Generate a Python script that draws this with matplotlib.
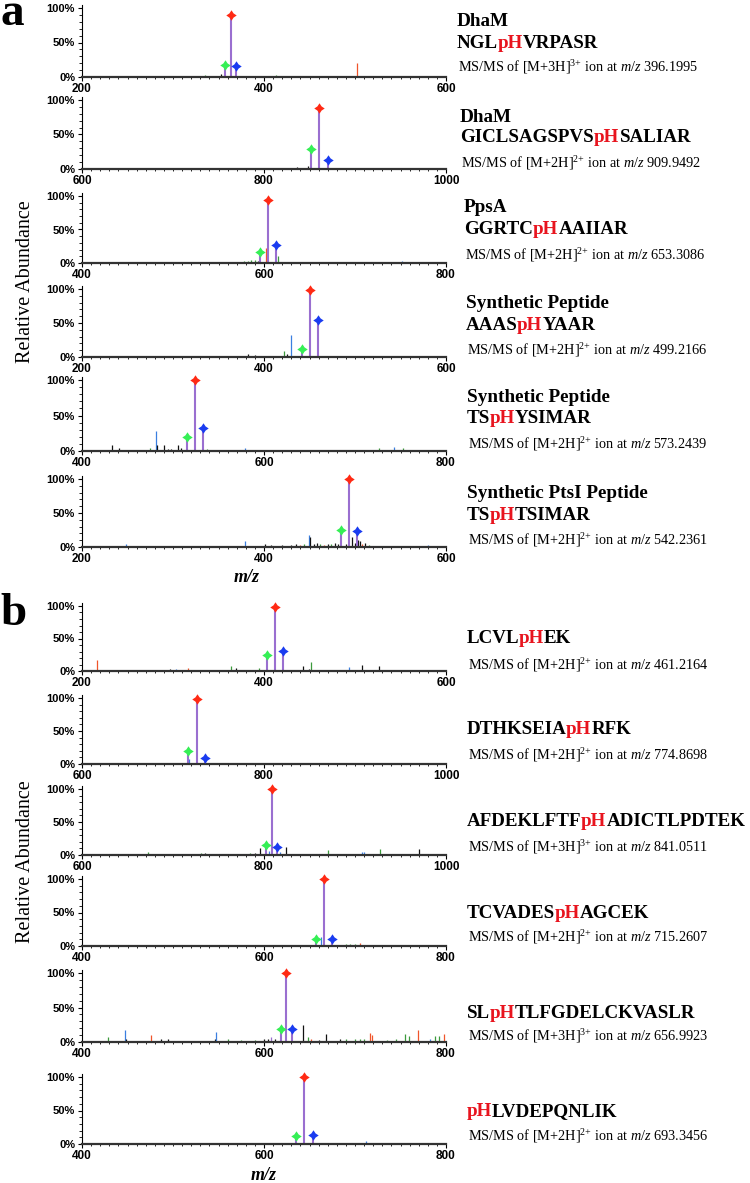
import matplotlib
matplotlib.use('Agg')
import numpy as np
import matplotlib.pyplot as plt
from matplotlib.figure import Figure
from matplotlib.backends.backend_agg import FigureCanvasAgg
from matplotlib.path import Path
from matplotlib.ticker import MultipleLocator, FixedLocator

plt.rcParams['font.family'] = ['Liberation Serif', 'DejaVu Serif']
plt.rcParams['mathtext.fontset'] = 'custom'
plt.rcParams['mathtext.rm'] = 'Liberation Serif'
plt.rcParams['mathtext.it'] = 'Liberation Serif:italic'
plt.rcParams['mathtext.bf'] = 'Liberation Serif:bold'

# ---------------- data ----------------
xlims = [(200, 600), (600, 1000), (400, 800), (200, 600), (400, 800), (200, 600),
         (200, 600), (600, 1000), (600, 1000), (400, 800), (400, 800), (400, 800)]

proteins = ["DhaM", "DhaM", "PpsA", "Synthetic Peptide", "Synthetic Peptide",
            "Synthetic PtsI Peptide", "", "", "", "", "", ""]
seq_pre = ["NGL", "GICLSAGSPVS", "GGRTC", "AAAS", "TS", "TS",
           "LCVL", "DTHKSEIA", "AFDEKLFTF", "TCVADES", "SL", ""]
seq_post = ["VRPASR", "SALIAR", "AAIIAR", "YAAR", "YSIMAR", "TSIMAR",
            "EK", "RFK", "ADICTLPDTEK", "AGCEK", "TLFGDELCKVASLR", "LVDEPQNLIK"]
charges = [3, 2, 2, 2, 2, 2, 2, 2, 3, 2, 3, 2]
precursor = ["396.1995", "909.9492", "653.3086", "499.2166", "573.2439", "542.2361",
             "461.2164", "774.8698", "841.0511", "715.2607", "656.9923", "693.3456"]

# annotated peaks (purple stick + marker)
red_mz = [363.53, 860.95, 604.31, 450.22, 524.24, 493.24, 412.22, 725.87, 808.38, 666.26, 624.33, 644.35]
red_int = [90, 89, 94, 98, 100, 100, 98, 99, 100, 100, 100, 100]
green_mz = [357.53, 851.95, 595.31, 441.22, 515.24, 484.24, 403.22, 716.87, 802.38, 657.26, 618.33, 635.35]
green_int = [17, 29, 17, 12, 20, 25, 25, 20, 15, 10, 19, 12]
blue_mz = [369.53, 869.95, 613.31, 459.22, 533.24, 502.24, 421.22, 734.87, 814.38, 675.26, 630.33, 653.35]
blue_int = [16, 13, 27, 55, 33, 24, 31, 9, 12, 10, 19, 13]

# other fragment peaks: m/z, intensity (%), colour code
a1_mz = [230, 262, 290, 318, 335, 341, 347, 350, 353, 375, 390, 413, 430, 455, 480, 502, 520, 545, 570]
a1_int = [0.6, 0.6, 0.8, 0.8, 3, 1.5, 1.5, 2, 5, 1, 1, 2.5, 2, 1, 1, 21, 1, 1, 0.8]
a1_col = "kkkkgkgkkkggbkgrkkg"

a2_mz = [640, 668, 700, 740, 768, 800, 822, 836.5, 843, 846, 848.5, 857, 880, 920, 960]
a2_int = [0.6, 1.2, 0.6, 0.8, 1.2, 0.8, 1, 3, 2, 1.5, 4, 2, 0.8, 0.6, 0.6]
a2_col = "kkkkkkkkbkkkkkk"

a3_mz = [450, 480, 520, 545, 560, 570, 578, 582, 586, 590, 593, 602.6, 615, 620, 650, 700, 752, 770]
a3_int = [0.6, 0.8, 0.6, 2, 1, 1.5, 3, 2.5, 4, 4, 3, 22, 10, 1.5, 0.8, 0.8, 2.5, 0.8]
a3_col = "kkkbkkggggkrgkkkbk"

a4_mz = [248, 300, 340, 362, 382, 390, 400, 410, 418, 422, 425, 430, 470]
a4_int = [1.2, 0.6, 1.5, 1.5, 4, 3, 1.5, 2, 2, 9, 5, 32, 2]
a4_col = "bkkkkkkkkgkbg"

a5_mz = [433, 441, 475, 481, 482.5, 490, 495, 498, 505, 509, 513, 537, 542, 579, 650, 700, 726, 743, 753]
a5_int = [8, 4, 4, 28, 8, 8, 3, 3, 8, 4, 2, 3, 1.5, 4, 1, 1, 4, 6, 4]
a5_col = "kkgbkkkkkkkgkbkkgbg"

a6_mz = [248, 290, 330, 350, 379, 385, 401, 408, 415, 420, 425, 430, 435, 440, 444, 449, 450.5,
         455, 458, 462, 466, 470, 474, 478, 481, 490, 497, 500, 503, 506, 508, 511, 515, 520, 540, 580]
a6_int = [4, 1, 1, 1.5, 9, 2, 5, 3, 2, 3, 2, 3, 4, 3, 5, 18, 14,
          4, 6, 4, 3, 5, 4, 6, 5, 5, 14, 6, 10, 9, 5, 6, 3, 2, 1, 3]
a6_col = "bkgkbrkkrkgkkrgbkkkgrkgkkkkkkkrkgkkb"

b1_mz = [216, 250, 280, 297, 303, 316, 340, 353, 364, 369, 380, 395, 429, 443, 449, 452, 470,
         493, 500, 508, 515, 520, 526, 560, 589]
b1_int = [17, 0.8, 1, 3, 3, 5, 1, 2, 8, 5, 1.5, 4, 2, 7, 3, 14, 1.5, 6, 2, 9, 2, 2, 7, 1, 1]
b1_col = "rkkkbrkbgkkgrkkgkbkkkkkkk"

b2_mz = [630, 663, 669, 690, 711, 718, 747, 752, 757, 790, 850, 900, 950, 975]
b2_int = [0.6, 1.2, 2, 0.8, 2, 8, 1.5, 1.2, 1.5, 0.8, 0.8, 1, 0.8, 0.8]
b2_col = "kgbkkbgggkkkkk"

b3_mz = [615, 640, 672, 699, 710, 731, 735, 745, 760, 775, 785, 790, 796, 805, 818, 824, 830,
         850, 861, 870, 890, 908, 910, 928, 945, 970, 985]
b3_int = [1, 1, 4, 1, 1.5, 3, 3, 2, 2, 2, 3, 3, 10, 6, 4, 12, 2, 1.5, 2, 8, 1.5, 5, 4, 9, 2, 9, 1.5]
b3_col = "kkgrkgkkkggkkbbkkkrggbbgkkk"

b4_mz = [450, 500, 560, 600, 640, 663, 685, 690, 695, 700, 705, 710, 740, 780]
b4_int = [0.6, 0.6, 0.8, 0.8, 1, 14, 2, 2.5, 3, 3, 4, 2, 0.8, 0.6]
b4_col = "kkkkkbggggrgkk"

b5_mz = [429, 437, 447, 448.5, 476, 487, 494, 510, 530, 546, 547, 560, 575, 590, 600, 604, 608,
         612, 643, 648, 652, 660, 668, 683, 690, 700, 705, 710, 717, 719, 735, 745, 755, 759,
         769, 782, 788, 792, 798]
b5_int = [7, 2, 18, 5, 10, 5, 4, 2, 2, 5, 15, 5, 3, 3, 5, 5, 7, 5, 24, 7, 5, 3, 12, 5, 4, 4,
          5, 5, 13, 10, 3, 4, 11, 9, 17, 4, 9, 8, 12]
b5_col = "gkbkrkkgkkbgggkkmkkgrkkkggggrrggggrbggr"

b6_mz = [440, 486, 523, 550, 563, 577, 580, 600, 677, 680, 712, 740, 770]
b6_int = [0.6, 1, 1.5, 0.8, 2, 2, 1.5, 1, 2, 1.5, 5, 0.8, 0.6]
b6_col = "kbkkrggkrgbkk"

peaks_mz = [a1_mz, a2_mz, a3_mz, a4_mz, a5_mz, a6_mz, b1_mz, b2_mz, b3_mz, b4_mz, b5_mz, b6_mz]
peaks_int = [a1_int, a2_int, a3_int, a4_int, a5_int, a6_int, b1_int, b2_int, b3_int, b4_int, b5_int, b6_int]
peaks_col = [a1_col, a2_col, a3_col, a4_col, a5_col, a6_col, b1_col, b2_col, b3_col, b4_col, b5_col, b6_col]

# ---------------- style / layout ----------------
W, H = 750, 1183
fig = plt.figure(figsize=(W / 100, H / 100), dpi=100)

colmap = {'k': '#111111', 'g': '#3c9a3c', 'b': '#3a7fe0', 'r': '#f0552a', 'm': '#9a6fd0'}
PURPLE = '#9a6fd0'
RED = '#ff2a14'
GREEN = '#35ef55'
BLUE = '#1a3cf0'
PH_RED = '#e8141e'
r_in = 0.4
star = Path([(0, 1), (r_in, r_in), (1, 0), (r_in, -r_in), (0, -1), (-r_in, -r_in),
             (-1, 0), (-r_in, r_in), (0, 1)], closed=True)

# pixel geometry: (y of 0%, y of 100%)
panel_px = [(77, 8), (169, 100), (263, 196), (357, 289), (451, 380), (547, 479),
            (671, 606), (764, 698), (855, 789), (946, 879), (1042, 973), (1144, 1077)]
X0, X1 = 82, 446

# text positions (x, y-protein, y-sequence, y-ms line)
text_px = [
    (457, 21, 43, 67), (460, 117, 138, 163), (464, 208, 230, 255),
    (466, 304, 326, 350), (467, 397, 418, 444), (467, 493, 516, 540),
    (467, None, 639, 665), (467, None, 730, 755), (467, None, 822, 847),
    (467, None, 913, 937), (467, None, 1013, 1036), (467, None, 1112, 1136),
]
SEQ_FS = 13.7
PROT_FS = 13.8


def ink_profile(s, x_px):
    """Render s off-screen at the same x anchor and return per-column ink."""
    f = Figure(figsize=(W / 100, 0.5), dpi=100)
    FigureCanvasAgg(f)
    f.text(x_px / W, 0.5, s, fontsize=SEQ_FS, fontweight='bold', color='black',
           va='center', ha='left')
    f.canvas.draw()
    a = np.asarray(f.canvas.buffer_rgba())[:, :, :3].astype(float)
    return (255.0 - a.min(axis=2)).sum(axis=0)


def shift_prof(p, d):
    out = np.zeros_like(p)
    n = len(p)
    if d >= 0:
        out[d:] = p[:n - d]
    else:
        out[:n + d] = p[-d:]
    return out


def best_shift(resid, piece):
    best_err, best_d = None, 0
    for d in range(-3, 330):
        err = np.abs(resid - shift_prof(piece, d)).sum()
        if best_err is None or err < best_err:
            best_err, best_d = err, d
    return best_d


def place_sequence(tx, ys, pre, post):
    pieces = [(pre, 'black'), ('pH', PH_RED), (post, 'black')]
    prev_prof = np.zeros(W)
    acc = ""
    for s, c in pieces:
        if not s:
            continue
        acc += s
        prof_acc = ink_profile(acc, tx)
        resid = prof_acc - prev_prof
        shift = best_shift(resid, ink_profile(s, tx))
        fig.text((tx + shift) / W, 1 - ys / H, s, fontsize=SEQ_FS, fontweight='bold',
                 color=c, va='center', ha='left')
        prev_prof = prof_acc


for i, (ybot, ytop) in enumerate(panel_px):
    h = (ybot - ytop) * 1.04
    ax = fig.add_axes([X0 / W, 1 - ybot / H, (X1 - X0) / W, h / H])
    ax.set_xlim(*xlims[i])
    ax.set_ylim(0, 104)
    cols = [colmap[c] for c in peaks_col[i]]
    ax.vlines(peaks_mz[i], 0, peaks_int[i], colors=cols, lw=0.9)
    for mz, it, mc in [(green_mz[i], green_int[i], GREEN), (blue_mz[i], blue_int[i], BLUE),
                       (red_mz[i], red_int[i], RED)]:
        ax.vlines(mz, 0, it, colors=PURPLE, lw=1.5)
        ax.plot([mz], [it], marker=star, color=mc, ms=7.5, mew=0, ls='none', clip_on=False, zorder=5)
    for s in ('top', 'right'):
        ax.spines[s].set_visible(False)
    ax.spines['left'].set_linewidth(0.8)
    ax.spines['bottom'].set_linewidth(1.6)
    ax.spines['bottom'].set_color('#333333')
    lo, hi = xlims[i]
    ax.xaxis.set_major_locator(FixedLocator([lo, (lo + hi) / 2, hi]))
    ax.xaxis.set_minor_locator(MultipleLocator(10))
    ax.yaxis.set_major_locator(FixedLocator([0, 50, 100]))
    ax.yaxis.set_minor_locator(MultipleLocator(10))
    ax.set_yticklabels(['0%', '50%', '100%'])
    ax.set_xticklabels([str(int(lo)), str(int((lo + hi) / 2)), str(int(hi))])
    ax.tick_params(axis='x', which='major', length=3, width=0.8, pad=1.5)
    ax.tick_params(axis='x', which='minor', length=1.2, width=0.6)
    ax.tick_params(axis='y', which='major', length=3, width=0.8, pad=2)
    ax.tick_params(axis='y', which='minor', length=2, width=0.6)
    for lab in ax.get_xticklabels():
        lab.set_fontfamily('Liberation Sans'); lab.set_fontweight('bold'); lab.set_fontsize(8.5)
    for lab in ax.get_yticklabels():
        lab.set_fontfamily('Liberation Sans'); lab.set_fontweight('bold'); lab.set_fontsize(8)

    # right-hand text
    tx, yp, ys, ym = text_px[i]
    if yp is not None and proteins[i]:
        fig.text(tx / W, 1 - yp / H, proteins[i], fontsize=PROT_FS, fontweight='bold', va='center')
    place_sequence(tx, ys, seq_pre[i], seq_post[i])
    ms_txt = r"MS/MS of [M+%dH]$^{%d{+}}$ ion at $\mathit{m/z}$ %s" % (charges[i], charges[i], precursor[i])
    fig.text((tx + 1) / W, 1 - ym / H, ms_txt, fontsize=10.3, va='center')

fig.text(0.0, 1 - 25 / H, 'a', fontsize=34, fontweight='bold', va='baseline', ha='left')
fig.text(0.0, 1 - 625 / H, 'b', fontsize=34, fontweight='bold', va='baseline', ha='left')
fig.text(26 / W, 1 - 282 / H, 'Relative Abundance', fontsize=14.5, rotation=90, va='center', ha='center')
fig.text(26 / W, 1 - 862 / H, 'Relative Abundance', fontsize=14.5, rotation=90, va='center', ha='center')
fig.text(247 / W, 1 - 577 / H, 'm/z', fontsize=13, fontweight='bold', fontstyle='italic', va='center', ha='center')
fig.text(264 / W, 1 - 1175 / H, 'm/z', fontsize=13, fontweight='bold', fontstyle='italic', va='center', ha='center')

fig.savefig('out.png', dpi=100)
